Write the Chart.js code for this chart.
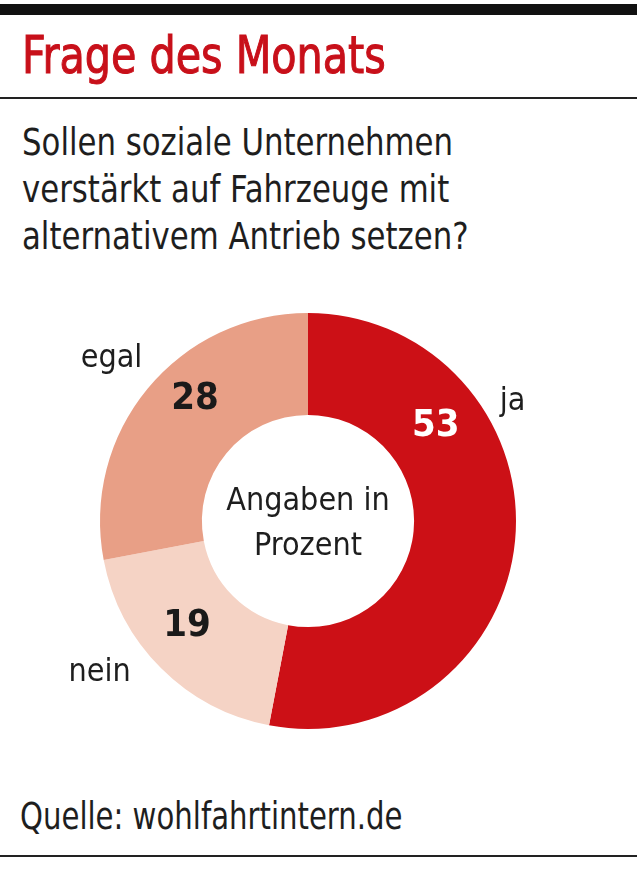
<!DOCTYPE html>
<html>
<head>
<meta charset="utf-8">
<script src="https://cdn.jsdelivr.net/npm/chart.js@4"></script>
<style>
  html, body { margin: 0; padding: 0; background: #fff; }
  body { width: 637px; height: 872px; position: relative; overflow: hidden;
         font-family: "Liberation Sans Narrow", "DejaVu Sans Condensed", sans-serif; color: #1e1e1e; }
  .topbar { position: absolute; left: 0; top: 4px; width: 637px; height: 11px; background: #111; }
  .title { position: absolute; left: 22px; top: 28px; font-size: 51px; line-height: 56px; color: #c8101a;
           -webkit-text-stroke: 1px #c8101a;
           white-space: nowrap; transform: scaleX(0.90); transform-origin: left top; }
  .rule1 { position: absolute; left: 0; top: 97px; width: 637px; height: 2px; background: #222; }
  .question { position: absolute; left: 22px; top: 119px; font-size: 37px; line-height: 47px;
              white-space: nowrap; transform: scaleX(0.925); transform-origin: left top; }
  .source { position: absolute; left: 20px; top: 795px; font-size: 37px; line-height: 44px;
            white-space: nowrap; transform: scaleX(0.876); transform-origin: left top; }
  .rule2 { position: absolute; left: 0; top: 855px; width: 637px; height: 2px; background: #222; }
  .chartbox { position: absolute; left: 0; top: 290px; width: 616px; height: 462px; }
</style>
</head>
<body>
<div class="topbar"></div>
<div class="title">Frage des Monats</div>
<div class="rule1"></div>
<div class="question">Sollen soziale Unternehmen<br>verstärkt auf Fahrzeuge mit<br>alternativem Antrieb setzen?</div>
<div class="chartbox"><canvas id="chart"></canvas></div>
<div class="source">Quelle: wohlfahrtintern.de</div>
<div class="rule2"></div>
<script>
// Daten
const categories = ['ja', 'nein', 'egal'];
const values = [53, 19, 28];
const centerText = ['Angaben in', 'Prozent'];

const FONT = '"Liberation Sans Narrow", "DejaVu Sans Condensed", sans-serif';

// Beschriftungen im Ring und außen
const labelPlugin = {
    id: 'ringLabels',
    afterDatasetsDraw(chart, args, opts) {
        const ctx = chart.ctx;
        const arcs = chart.getDatasetMeta(0).data;
        ctx.save();
        ctx.textAlign = 'center';
        ctx.textBaseline = 'middle';
        arcs.forEach((arc, i) => {
            const p = arc.getProps(['x', 'y', 'startAngle', 'endAngle', 'innerRadius', 'outerRadius'], true);
            const vp = opts.valuePos[i];
            const np = opts.namePos[i];
            // Wert
            let a = p.startAngle + vp.f * (p.endAngle - p.startAngle);
            let r = p.innerRadius + vp.r * (p.outerRadius - p.innerRadius);
            ctx.font = 'bold 38px ' + FONT;
            ctx.fillStyle = opts.valueColors[i];
            ctx.fillText(values[i], p.x + r * Math.cos(a), p.y + r * Math.sin(a));
            // Kategorie
            a = p.startAngle + np.f * (p.endAngle - p.startAngle);
            r = p.outerRadius + np.d;
            ctx.font = '32px ' + FONT;
            ctx.fillStyle = '#1e1e1e';
            ctx.fillText(categories[i], p.x + r * Math.cos(a), p.y + r * Math.sin(a));
        });
        // Text in der Mitte
        const c = arcs[0];
        ctx.font = '32px ' + FONT;
        ctx.fillStyle = '#1e1e1e';
        ctx.fillText(centerText[0], c.x, c.y - 19);
        ctx.fillText(centerText[1], c.x, c.y + 26);
        ctx.restore();
    }
};

new Chart(document.getElementById('chart'), {
    type: 'doughnut',
    data: {
        labels: categories,
        datasets: [{
            data: values,
            backgroundColor: ['#cc1016', '#f5d3c5', '#e89f86'],
            borderWidth: 0
        }]
    },
    options: {
        responsive: true,
        maintainAspectRatio: false,
        animation: false,
        cutout: '51%',
        layout: { padding: 23 },
        events: [],
        plugins: {
            legend: { display: false },
            tooltip: { enabled: false },
            ringLabels: {
                valuePos: [{ f: 0.28, r: 0.52 }, { f: 0.56, r: 0.53 }, { f: 0.575, r: 0.59 }],
                namePos: [{ f: 0.313, d: 29 }, { f: 0.63, d: 50 }, { f: 0.50, d: 47 }],
                valueColors: ['#ffffff', '#1a1a1a', '#1a1a1a']
            }
        }
    },
    plugins: [labelPlugin]
});
</script>
</body>
</html>
